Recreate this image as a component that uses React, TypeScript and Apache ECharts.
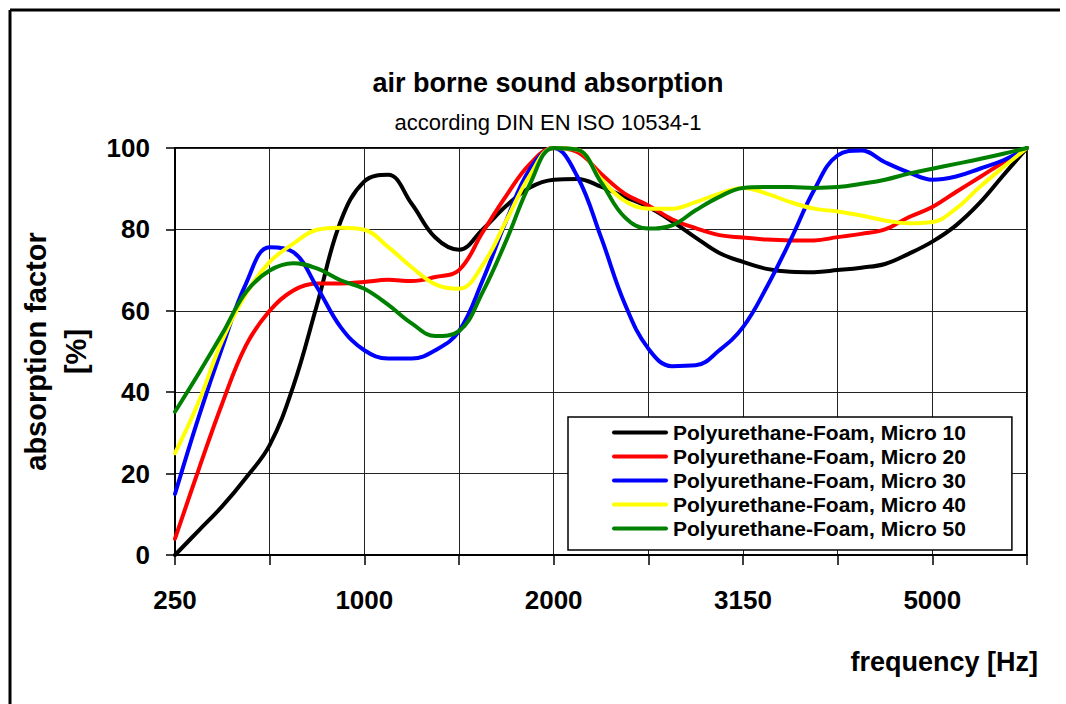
import React, { useEffect, useRef } from "react";
import * as echarts from "echarts";

// x positions in axis-tick units (0 = 250 Hz tick, 9 = last tick)
const positions = [
  0, 0.25, 0.5, 0.75, 1, 1.25, 1.5, 1.75, 2, 2.25, 2.5, 2.75, 3, 3.25, 3.5, 3.75,
  4, 4.25, 4.5, 4.75, 5, 5.25, 5.5, 5.75, 6, 6.25, 6.5, 6.75, 7, 7.25, 7.5, 7.75,
  8, 8.25, 8.5, 8.75, 9,
];

const xTickLabels = ["250", "", "1000", "", "2000", "", "3150", "", "5000", ""];

const seriesNames = [
  "Polyurethane-Foam, Micro 10",
  "Polyurethane-Foam, Micro 20",
  "Polyurethane-Foam, Micro 30",
  "Polyurethane-Foam, Micro 40",
  "Polyurethane-Foam, Micro 50",
];

const micro10 = [
  0, 6, 12, 19, 27, 41.5, 61.5, 82, 91.8, 93.4, 86.3, 78, 75, 80, 85.8, 90.3,
  92.2, 92.4, 90.5, 88, 85.5, 82, 78, 74.2, 72, 70.3, 69.6, 69.5, 70, 70.6, 71.5, 74,
  77, 81, 86.5, 93.3, 100,
];
const micro20 = [
  4, 21, 37.3, 51.5, 60, 65, 66.7, 66.7, 67.1, 67.6, 67.3, 68.3, 70, 79.3, 88.3, 96.1,
  100, 99, 93.7, 88.8, 85.9, 82.5, 80.3, 78.6, 78, 77.5, 77.3, 77.3, 78.1, 78.9, 80, 83,
  85.5, 89.2, 92.8, 96.5, 100,
];
const micro30 = [
  15, 33.9, 51.1, 66.7, 75.6, 74.4, 65.8, 56, 50.3, 48.3, 48.3, 50.3, 55, 67.5, 82.2, 94.9,
  100, 93, 78.1, 61.8, 50.7, 46.4, 46.6, 50.3, 56, 65.8, 77.3, 89.6, 98.2, 99.4, 96.5, 94,
  92.2, 93, 94.9, 97, 100,
];
const micro40 = [
  25, 37.6, 52.8, 64.2, 72, 76.5, 79.9, 80.4, 79.9, 75.7, 70.7, 66.5, 65.4, 71.2, 82.2, 93.3,
  100, 99.6, 92.4, 87, 85.1, 85.1, 86.7, 88.8, 90.2, 88.8, 86.7, 85.1, 84.4, 83.4, 82.2, 81.5,
  81.8, 85.1, 90.4, 95.3, 100,
];
const micro50 = [
  35.2, 44.6, 54.4, 64.6, 69.9, 71.7, 70.4, 67.5, 65.4, 61.5, 56.9, 53.8, 55, 64.6, 77.3, 91.2,
  100, 99.6, 91.6, 83, 80.2, 81, 84.7, 88, 90.2, 90.4, 90.4, 90.2, 90.4, 91.2, 92.2, 93.7,
  94.9, 96.1, 97.3, 98.6, 100,
];

const seriesValues = [micro10, micro20, micro30, micro40, micro50];
const seriesColors = ["#000000", "#ff0000", "#0000ff", "#ffff00", "#008000"];

const FONT = "'Liberation Sans', Arial, Helvetica, sans-serif";

export default function App() {
  const ref = useRef<HTMLDivElement>(null);

  useEffect(() => {
    if (!ref.current) return;
    const chart = echarts.init(ref.current, null, { renderer: "svg" });

    const series = seriesNames.map((name, i) => ({
      name,
      type: "line",
      data: positions.map((x, j) => [x, seriesValues[i][j]]),
      smooth: 0.4,
      symbol: "none",
      clip: true,
      lineStyle: { width: 4, color: seriesColors[i], cap: "round", join: "round" },
      itemStyle: { color: seriesColors[i] },
    }));

    chart.setOption({
      animation: false,
      backgroundColor: "#ffffff",
      color: seriesColors,
      title: [
        {
          text: "air borne sound absorption",
          left: 543,
          top: 64,
          textAlign: "center",
          textStyle: { fontFamily: FONT, fontSize: 27, fontWeight: "bold", color: "#000" },
        },
        {
          text: "according DIN EN ISO 10534-1",
          left: 543,
          top: 106,
          textAlign: "center",
          textStyle: { fontFamily: FONT, fontSize: 22, fontWeight: "normal", color: "#000" },
        },
      ],
      grid: {
        left: 175,
        right: 39,
        top: 148,
        bottom: 149,
        containLabel: false,
        show: true,
        borderColor: "#000",
        borderWidth: 2,
        backgroundColor: "transparent",
      },
      xAxis: {
        type: "value",
        min: 0,
        max: 9,
        interval: 1,
        axisLine: { show: true, onZero: false, lineStyle: { color: "#000", width: 2 } },
        axisTick: { show: true, inside: false, length: 10, lineStyle: { color: "#000", width: 1.5 } },
        splitLine: { show: true, lineStyle: { color: "#222", width: 1 } },
        axisLabel: {
          margin: 32,
          fontFamily: FONT,
          fontSize: 26,
          fontWeight: "bold",
          color: "#000",
          formatter: (v: number) => xTickLabels[Math.round(v)] ?? "",
        },
      },
      yAxis: {
        type: "value",
        min: 0,
        max: 100,
        interval: 20,
        name: "absorption factor\n[%]",
        nameLocation: "middle",
        nameRotate: 90,
        nameGap: 76,
        nameTextStyle: {
          fontFamily: FONT,
          fontSize: 29,
          fontWeight: "bold",
          color: "#000",
          lineHeight: 40,
        },
        axisLine: { show: true, lineStyle: { color: "#000", width: 2 } },
        axisTick: { show: true, inside: false, length: 9, lineStyle: { color: "#000", width: 1.5 } },
        splitLine: { show: true, lineStyle: { color: "#222", width: 1 } },
        axisLabel: {
          margin: 25,
          fontFamily: FONT,
          fontSize: 26,
          fontWeight: "bold",
          color: "#000",
        },
      },
      legend: {
        orient: "vertical",
        left: 568,
        top: 417,
        padding: [5, 46, 11, 44],
        backgroundColor: "#ffffff",
        borderColor: "#000",
        borderWidth: 1.5,
        itemWidth: 56,
        itemHeight: 5,
        itemGap: 3,
        icon: "path://M1,0 L27,0 A1,1 0 0 1 27,2 L1,2 A1,1 0 0 1 1,0 Z",
        textStyle: {
          fontFamily: FONT,
          fontSize: 21,
          fontWeight: "bold",
          color: "#000",
          lineHeight: 21,
        },
        data: seriesNames,
        selectedMode: false,
      },
      graphic: [
        {
          type: "line",
          z: -10,
          silent: true,
          shape: { x1: 10, y1: 10, x2: 1060, y2: 10 },
          style: { stroke: "#000", lineWidth: 3 },
        },
        {
          type: "line",
          z: -10,
          silent: true,
          shape: { x1: 10, y1: 10, x2: 10, y2: 720 },
          style: { stroke: "#000", lineWidth: 3 },
        },
        {
          type: "text",
          x: 1038,
          y: 662,
          style: {
            text: "frequency [Hz]",
            font: `bold 27px ${FONT}`,
            fill: "#000",
            textAlign: "right",
            textVerticalAlign: "middle",
          },
        },
      ],
      series,
    });

    return () => chart.dispose();
  }, []);

  return (
    <div
      ref={ref}
      style={{ position: "fixed", left: 0, top: 0, width: 1066, height: 704 }}
    />
  );
}
